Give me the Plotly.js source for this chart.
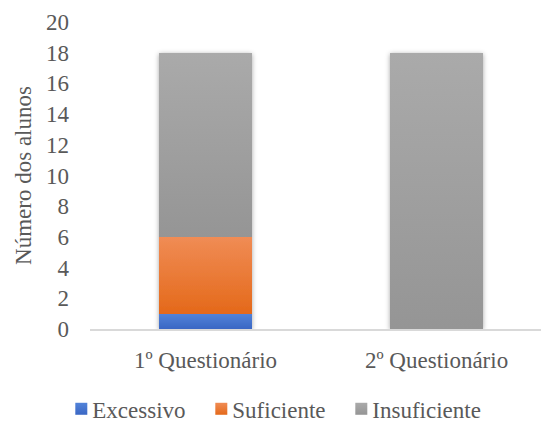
<!DOCTYPE html>
<html>
<head>
<meta charset="utf-8">
<script src="https://cdn.plot.ly/plotly-3.0.1.min.js"></script>
<style>
html,body{margin:0;padding:0;background:#fff;}
#chart{width:541px;height:421px;}
</style>
</head>
<body>
<div id="chart"></div>
<script>
var categories = ["1º Questionário", "2º Questionário"];
var seriesNames = ["Excessivo", "Suficiente", "Insuficiente"];
var excessivo = [1, 0];
var suficiente = [5, 0];
var insuficiente = [12, 18];
var yTicks = [0, 2, 4, 6, 8, 10, 12, 14, 16, 18, 20];

var baseColors = ["#4472c4", "#f47b20", "#a0a0a0"];
var gradStops = [
  ["#5283d9", "#3a67c4"],
  ["#f08c55", "#e4691a"],
  ["#aaaaaa", "#959595"]
];
var values = [excessivo, suficiente, insuficiente];

var FONT = "Liberation Serif";
var TXT = "#595959";
var FS = 23;

var traces = seriesNames.map(function (name, i) {
  return {
    type: "bar",
    name: name,
    x: categories,
    y: values[i],
    marker: {color: baseColors[i], line: {width: 0}},
    hoverinfo: "skip"
  };
});

var layout = {
  width: 541,
  height: 421,
  margin: {l: 90, r: 0, t: 22, b: 92, autoexpand: false},
  paper_bgcolor: "#ffffff",
  plot_bgcolor: "#ffffff",
  barmode: "stack",
  bargap: 0.6,
  font: {family: FONT, size: FS, color: TXT},
  showlegend: true,
  legend: {
    orientation: "h",
    x: 0.402,
    xanchor: "center",
    y: -0.19,
    yanchor: "top",
    traceorder: "normal",
    bgcolor: "rgba(0,0,0,0)",
    font: {family: FONT, size: FS, color: TXT},
    itemwidth: 30,
    entrywidth: 95
  },
  xaxis: {
    type: "category",
    range: [-0.5, 1.452],
    showgrid: false,
    zeroline: false,
    showline: true,
    linecolor: "#d9d9d9",
    linewidth: 2,
    ticks: "",
    ticklabelstandoff: 9,
    automargin: false,
    tickfont: {family: FONT, size: FS, color: TXT},
    fixedrange: true
  },
  yaxis: {
    range: [0, 20],
    tickvals: yTicks,
    ticktext: yTicks.map(String),
    showgrid: false,
    zeroline: false,
    showline: false,
    ticks: "",
    ticklabelstandoff: 20,
    automargin: false,
    tickfont: {family: FONT, size: FS, color: TXT},
    title: {text: "Número dos alunos", font: {family: FONT, size: FS, color: TXT}, standoff: 7},
    fixedrange: true
  }
};

Plotly.newPlot("chart", traces, layout, {displayModeBar: false, staticPlot: true}).then(function (gd) {
  var svgNS = "http://www.w3.org/2000/svg";
  var svg = gd.querySelector("svg.main-svg");
  var defs = svg.querySelector("defs");
  if (!defs) { defs = document.createElementNS(svgNS, "defs"); svg.insertBefore(defs, svg.firstChild); }
  gradStops.forEach(function (st, i) {
    var g = document.createElementNS(svgNS, "linearGradient");
    g.setAttribute("id", "barGrad" + i);
    g.setAttribute("x1", "0"); g.setAttribute("y1", "0");
    g.setAttribute("x2", "0"); g.setAttribute("y2", "1");
    [[0, st[0]], [1, st[1]]].forEach(function (s) {
      var stop = document.createElementNS(svgNS, "stop");
      stop.setAttribute("offset", s[0]);
      stop.setAttribute("stop-color", s[1]);
      g.appendChild(stop);
    });
    defs.appendChild(g);
  });
  var f = document.createElementNS(svgNS, "filter");
  f.setAttribute("id", "barShadow");
  f.setAttribute("x", "-20%"); f.setAttribute("y", "-10%");
  f.setAttribute("width", "140%"); f.setAttribute("height", "120%");
  var ds = document.createElementNS(svgNS, "feDropShadow");
  ds.setAttribute("dx", "0"); ds.setAttribute("dy", "1");
  ds.setAttribute("stdDeviation", "2.5");
  ds.setAttribute("flood-color", "#000");
  ds.setAttribute("flood-opacity", "0.35");
  f.appendChild(ds);
  defs.appendChild(f);

  var barTraces = gd.querySelectorAll(".barlayer .trace.bars");
  barTraces.forEach(function (t, i) {
    t.querySelectorAll("path").forEach(function (p) {
      p.style.fill = "url(#barGrad" + i + ")";
    });
  });
  var bl = gd.querySelector(".barlayer");
  if (bl) bl.setAttribute("filter", "url(#barShadow)");

  // legend: gradient swatches, no clipping, tighter swatch-to-text gap
  gd.querySelectorAll(".legend [clip-path]").forEach(function (el) { el.removeAttribute("clip-path"); });
  var leg = gd.querySelector(".legend");
  if (leg) leg.removeAttribute("clip-path");
  var legTraces = gd.querySelectorAll(".legend .traces");
  legTraces.forEach(function (t, i) {
    t.querySelectorAll(".legendpoints path").forEach(function (p) {
      p.style.fill = "url(#barGrad" + i + ")";
    });
    var txt = t.querySelector("text.legendtext");
    if (txt) txt.setAttribute("x", String(parseFloat(txt.getAttribute("x")) - 9));
  });
});
</script>
</body>
</html>
